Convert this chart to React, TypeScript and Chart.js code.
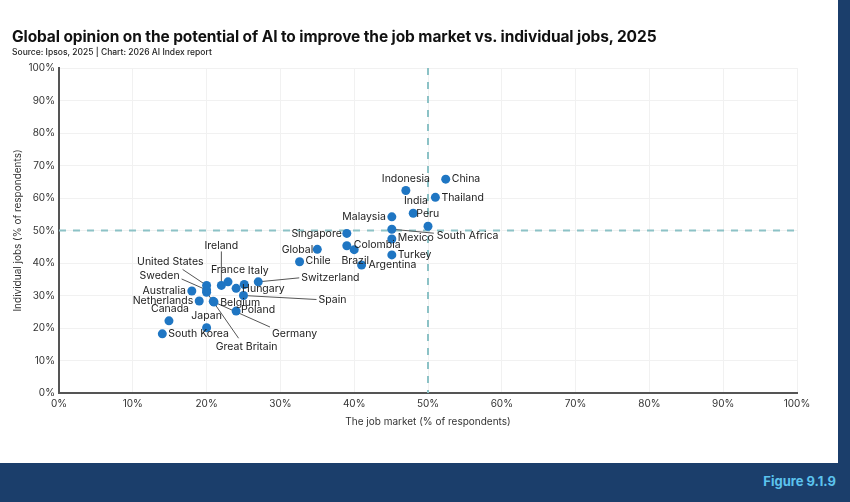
import { useEffect, useRef } from "react";
import { Chart, registerables } from "chart.js";

Chart.register(...registerables);

// Share of respondents who think AI will improve the job market (x) and their own job (y)
const countries = [
  "China", "Indonesia", "Thailand", "India", "Peru", "Malaysia", "South Africa", "Mexico",
  "Turkey", "Singapore", "Colombia", "Brazil", "Global", "Chile", "Argentina",
  "Switzerland", "Ireland", "France", "Italy", "Hungary", "Spain", "Poland", "Belgium",
  "Germany", "Great Britain", "Japan", "South Korea", "Canada", "Netherlands", "Australia",
  "Sweden", "United States",
];
const jobMarket = [
  52.4, 47.0, 51.0, 50.0, 48.0, 45.1, 45.1, 45.1,
  45.1, 39.0, 39.0, 40.0, 35.0, 32.6, 41.0,
  27.0, 22.0, 22.9, 25.1, 24.0, 25.0, 24.0, 20.9,
  21.0, 20.0, 20.0, 14.0, 14.9, 19.0, 18.0,
  20.0, 20.0,
];
const individualJobs = [
  65.8, 62.3, 60.2, 51.3, 55.3, 54.2, 50.4, 47.4,
  42.5, 49.1, 45.3, 44.1, 44.2, 40.4, 39.4,
  34.2, 33.1, 34.2, 33.4, 32.2, 30.0, 25.2, 28.2,
  28.0, 31.0, 20.1, 18.2, 22.2, 28.3, 31.4,
  31.7, 33.1,
];
const axisTicks = [0, 10, 20, 30, 40, 50, 60, 70, 80, 90, 100];
const threshold = 50;

// Where each country's name sits relative to its dot (px), with an optional leader line end
type Placement = { dx: number; dy: number; align: CanvasTextAlign; leader?: [number, number] };
const placements: Record<string, Placement> = {
  "China": { dx: 6, dy: 0, align: "left" },
  "Indonesia": { dx: 0, dy: -12, align: "center" },
  "Thailand": { dx: 6, dy: 0, align: "left" },
  "India": { dx: -12, dy: -25, align: "center" },
  "Peru": { dx: 3, dy: 1, align: "left" },
  "Malaysia": { dx: -6, dy: 0, align: "right" },
  "South Africa": { dx: 45, dy: 7, align: "left", leader: [42, 4] },
  "Mexico": { dx: 6, dy: -1, align: "left" },
  "Turkey": { dx: 6, dy: 0, align: "left" },
  "Singapore": { dx: -5, dy: 0, align: "right" },
  "Colombia": { dx: 7, dy: -1, align: "left" },
  "Brazil": { dx: 1, dy: 11, align: "center" },
  "Global": { dx: -4, dy: 0, align: "right" },
  "Chile": { dx: 6, dy: -1, align: "left" },
  "Argentina": { dx: 7, dy: 0, align: "left" },
  "Switzerland": { dx: 43, dy: -4, align: "left", leader: [41, -4] },
  "Ireland": { dx: 0, dy: -40, align: "center", leader: [0, -34] },
  "France": { dx: 0, dy: -12, align: "center" },
  "Italy": { dx: 14, dy: -14, align: "center" },
  "Hungary": { dx: 6, dy: 0, align: "left" },
  "Spain": { dx: 75, dy: 4, align: "left", leader: [73, 4] },
  "Poland": { dx: 5, dy: -1, align: "left" },
  "Belgium": { dx: 7, dy: 1, align: "left" },
  "Germany": { dx: 58, dy: 32, align: "left", leader: [56, 25] },
  "Great Britain": { dx: 40, dy: 55, align: "center", leader: [32, 46] },
  "Japan": { dx: 0, dy: -12, align: "center" },
  "South Korea": { dx: 6, dy: 0, align: "left" },
  "Canada": { dx: 1, dy: -12, align: "center" },
  "Netherlands": { dx: -6, dy: 0, align: "right" },
  "Australia": { dx: -6, dy: 0, align: "right" },
  "Sweden": { dx: -27, dy: -14, align: "right", leader: [-25, -11] },
  "United States": { dx: -3, dy: -24, align: "right", leader: [-24, -16] },
};

const FONT = "Inter, 'Noto Sans', sans-serif";
const NAVY = "#1b3e6b";

const annotate = {
  id: "annotate",
  beforeDatasetsDraw(chart: any) {
    const { ctx, chartArea, scales } = chart;
    const x50 = scales.x.getPixelForValue(threshold);
    const y50 = scales.y.getPixelForValue(threshold);
    ctx.save();
    ctx.strokeStyle = "#8cc2c6";
    ctx.lineWidth = 2;
    ctx.setLineDash([7, 7]);
    ctx.beginPath();
    ctx.moveTo(chartArea.left, y50);
    ctx.lineTo(chartArea.right, y50);
    ctx.moveTo(x50, chartArea.top);
    ctx.lineTo(x50, chartArea.bottom);
    ctx.stroke();
    ctx.setLineDash([]);
    ctx.strokeStyle = "#555";
    ctx.lineWidth = 1;
    const meta = chart.getDatasetMeta(0);
    meta.data.forEach((pt: any, i: number) => {
      const p = placements[countries[i]];
      if (!p || !p.leader) return;
      ctx.beginPath();
      ctx.moveTo(pt.x, pt.y);
      ctx.lineTo(pt.x + p.leader[0], pt.y + p.leader[1]);
      ctx.stroke();
    });
    ctx.restore();
  },
  afterDatasetsDraw(chart: any) {
    const { ctx } = chart;
    const meta = chart.getDatasetMeta(0);
    ctx.save();
    ctx.font = `10.5px ${FONT}`;
    ctx.fillStyle = "#222";
    ctx.textBaseline = "middle";
    meta.data.forEach((pt: any, i: number) => {
      const p = placements[countries[i]];
      if (!p) return;
      ctx.textAlign = p.align;
      ctx.fillText(countries[i], pt.x + p.dx, pt.y + p.dy);
    });
    ctx.restore();
  },
};

export default function App() {
  const ref = useRef<HTMLCanvasElement | null>(null);

  useEffect(() => {
    if (!ref.current) return;
    const chart = new Chart(ref.current, {
      type: "scatter",
      data: {
        datasets: [
          {
            data: countries.map((_, i) => ({ x: jobMarket[i], y: individualJobs[i] })),
            backgroundColor: "#1f76c3",
            borderWidth: 0,
            pointRadius: 4.5,
          },
        ],
      },
      options: {
        animation: false,
        responsive: false,
        layout: { padding: { top: 68, left: 0, right: 53, bottom: 39 } },
        plugins: { legend: { display: false }, tooltip: { enabled: false }, title: { display: false } },
        scales: {
          x: {
            type: "linear",
            min: 0,
            max: 100,
            afterBuildTicks: (s: any) => { s.ticks = axisTicks.map((v) => ({ value: v })); },
            afterFit: (s: any) => { s.height = 70; },
            ticks: {
              callback: (v: any) => `${v}%`,
              font: { family: FONT, size: 10 },
              color: "#333",
              padding: 5,
              maxRotation: 0,
            },
            grid: { color: "#f1f1f1", lineWidth: 1, drawTicks: false },
            border: { color: "#555", width: 2 },
            title: {
              display: true,
              text: "The job market (% of respondents)",
              font: { family: FONT, size: 10 },
              color: "#333",
              padding: { top: 0, bottom: 35 },
            },
          },
          y: {
            type: "linear",
            min: 0,
            max: 100,
            afterBuildTicks: (s: any) => { s.ticks = axisTicks.map((v) => ({ value: v })); },
            afterFit: (s: any) => { s.width = 59; },
            ticks: {
              callback: (v: any) => `${v}%`,
              font: { family: FONT, size: 10 },
              color: "#333",
              padding: 4,
            },
            grid: { color: "#f1f1f1", lineWidth: 1, drawTicks: false },
            border: { color: "#555", width: 2 },
            title: {
              display: true,
              text: "Individual jobs (% of respondents)",
              font: { family: FONT, size: 10 },
              color: "#333",
              padding: { top: 12, bottom: 0 },
            },
          },
        },
      },
      plugins: [annotate],
    });
    return () => chart.destroy();
  }, []);

  return (
    <div style={{ position: "fixed", left: 0, top: 0, width: 850, height: 502, background: "#fff", overflow: "hidden" }}>
      <canvas ref={ref} width={850} height={502} style={{ position: "absolute", left: 0, top: 0, width: 850, height: 502 }} />
      <div style={{ position: "absolute", left: 12, top: 27, fontFamily: FONT, fontWeight: 700, fontSize: 15.5, color: "#111", whiteSpace: "nowrap", letterSpacing: -0.1 }}>
        Global opinion on the potential of AI to improve the job market vs. individual jobs, 2025
      </div>
      <div style={{ position: "absolute", left: 12, top: 47, fontFamily: FONT, fontWeight: 500, fontSize: 8.5, color: "#222", whiteSpace: "nowrap" }}>
        Source: Ipsos, 2025 | Chart: 2026 AI Index report
      </div>
      <div style={{ position: "absolute", left: 838, top: 0, width: 12, height: 502, background: NAVY }} />
      <div style={{ position: "absolute", left: 0, top: 463, width: 850, height: 39, background: NAVY }} />
      <div style={{ position: "absolute", right: 14, top: 473, fontFamily: FONT, fontWeight: 700, fontSize: 13, color: "#5cc3ee", whiteSpace: "nowrap" }}>
        Figure 9.1.9
      </div>
    </div>
  );
}
